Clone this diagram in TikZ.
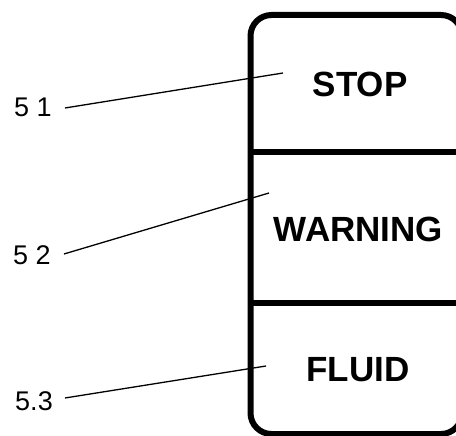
\documentclass[tikz,border=0pt]{standalone}
\usepackage{fontspec}
\setmainfont{Liberation Sans}
\begin{document}
\begin{tikzpicture}[x=1pt,y=-1pt,
  panel/.style={line width=6pt},
  tag/.style={inner sep=0pt,font=\fontsize{35}{40}\selectfont\bfseries},
  num/.style={inner sep=0pt,font=\fontsize{27}{32}\selectfont},
  leader/.style={line width=1.3pt}]
\useasboundingbox (0,0) rectangle (456,436);
\begin{scope}
\clip (0,0) rectangle (456,436);
\draw[panel,rounded corners=21pt] (250.5,15) rectangle (462,434);
\draw[panel] (250.5,152.5) -- (462,152.5);
\draw[panel] (250.5,302.5) -- (462,302.5);
\end{scope}
\node[tag] (stop) at (360,84) {STOP};
\node[tag] (warn) at (358.5,229.5) {WARNING};
\node[tag] (fluid) at (358,370) {FLUID};
\node[num] (n1) at (33,107) {5 1};
\node[num] (n2) at (32,255) {5 2};
\node[num] (n3) at (34,401) {5.3};
\coordinate (e1) at (283,73);
\coordinate (e2) at (269,193);
\coordinate (e3) at (266,366);
\draw[leader] (n1.east) ++(13,1) coordinate (s1) -- (e1);
\draw[leader] (n2.east) ++(13,-1) coordinate (s2) -- (e2);
\draw[leader] (n3.east) ++(12,-3) coordinate (s3) -- (e3);
\end{tikzpicture}
\end{document}
